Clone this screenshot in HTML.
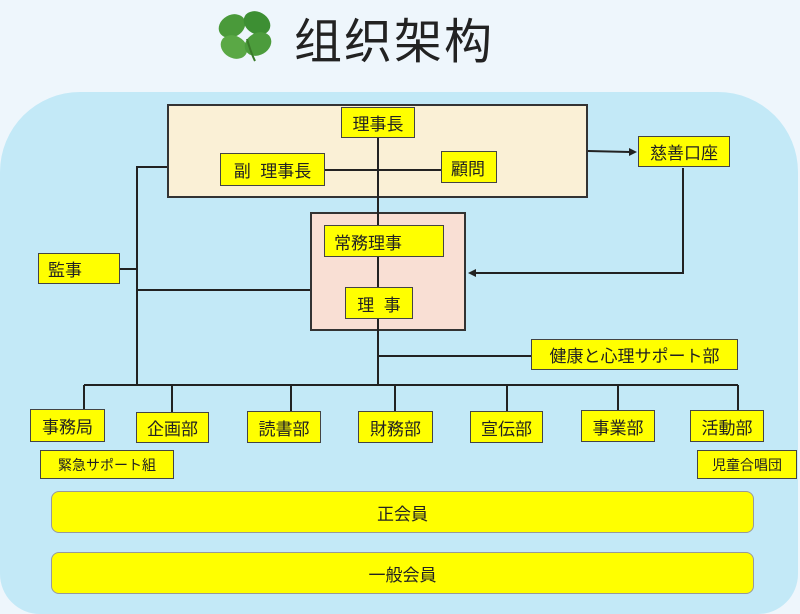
<!DOCTYPE html>
<html><head><meta charset="utf-8"><style>
html,body{margin:0;width:800px;height:614px;overflow:hidden;}
body{background:#eef6fc;position:relative;font-family:"Liberation Sans","Noto Sans CJK JP",sans-serif;}
.bg{position:absolute;left:0;top:92px;width:798px;height:522px;background:#c3e9f7;border-radius:80px 80px 40px 40px;}
.b{position:absolute;background:#ffff00;border:1.5px solid #444;box-sizing:border-box;font-size:17px;color:#222;display:flex;align-items:center;padding-left:9px;white-space:nowrap;}
.c{justify-content:center;padding-left:0;}
.s{font-size:14px;}
.big{border-radius:8px;border:1.5px solid #999;}
svg{position:absolute;left:0;top:0;}
</style></head><body>
<div class="bg"></div>
<div style="position:absolute;left:167px;top:104px;width:421px;height:94px;background:#faf0d6;border:2px solid #333;box-sizing:border-box"></div>
<div style="position:absolute;left:310px;top:212px;width:156px;height:119px;background:#f9dfd4;border:2px solid #333;box-sizing:border-box"></div>
<svg width="800" height="614">
<g stroke="#222" stroke-width="2" fill="none">
<polyline points="167,167 137,167 137,385"/>
<line x1="120" y1="269" x2="137" y2="269"/>
<line x1="137" y1="290" x2="310" y2="290"/>
<line x1="378" y1="138" x2="378" y2="385"/>
<line x1="325" y1="170" x2="441" y2="170"/>
<line x1="378" y1="356" x2="531" y2="356"/>
<line x1="84" y1="385" x2="738" y2="385"/>
<line x1="84" y1="385" x2="84" y2="409"/>
<line x1="172" y1="385" x2="172" y2="412"/>
<line x1="291" y1="385" x2="291" y2="411"/>
<line x1="395" y1="385" x2="395" y2="411"/>
<line x1="507" y1="385" x2="507" y2="411"/>
<line x1="618" y1="385" x2="618" y2="410"/>
<line x1="738" y1="385" x2="738" y2="410"/>
<line x1="588" y1="151" x2="630" y2="152"/>
<polyline points="683,168 683,273 474,273"/>
</g>
<polygon points="637,152 629,148 629,156" fill="#222"/>
<polygon points="468,273 476,269 476,277" fill="#222"/>
<g transform="translate(245,35)">
<ellipse cx="-13" cy="-9" rx="14" ry="11" fill="#4a9a3a" transform="rotate(-30 -13 -9)"/>
<ellipse cx="12" cy="-12" rx="14" ry="11" fill="#3d8f33" transform="rotate(30 12 -12)"/>
<ellipse cx="-11" cy="12" rx="14" ry="11" fill="#5aa845" transform="rotate(30 -11 12)"/>
<ellipse cx="13" cy="9" rx="14" ry="11" fill="#4c9c3c" transform="rotate(-30 13 9)"/>
<path d="M2 4 Q6 18 10 26" stroke="#3a7a2a" stroke-width="2" fill="none"/>
</g>
</svg>
<div style="position:absolute;left:294px;top:2px;font-size:48px;letter-spacing:2px;color:#222;font-family:'Noto Sans CJK SC',sans-serif">组织架构</div>
<div class="b c" style="left:341px;top:107px;width:74px;height:31px">理事長</div>
<div class="b c" style="left:220px;top:153px;width:105px;height:33px">副&nbsp;&nbsp;理事長</div>
<div class="b" style="left:441px;top:151px;width:56px;height:32px">顧問</div>
<div class="b" style="left:324px;top:225px;width:120px;height:32px">常務理事</div>
<div class="b c" style="left:345px;top:287px;width:68px;height:32px">理&nbsp;&nbsp;事</div>
<div class="b" style="left:38px;top:253px;width:82px;height:31px">監事</div>
<div class="b c" style="left:638px;top:136px;width:92px;height:31px">慈善口座</div>
<div class="b c" style="left:531px;top:339px;width:207px;height:31px">健康と心理サポート部</div>
<div class="b c" style="left:30px;top:409px;width:75px;height:33px">事務局</div>
<div class="b c" style="left:136px;top:412px;width:73px;height:31px">企画部</div>
<div class="b c" style="left:247px;top:411px;width:74px;height:32px">読書部</div>
<div class="b c" style="left:358px;top:411px;width:75px;height:32px">財務部</div>
<div class="b c" style="left:470px;top:411px;width:73px;height:32px">宣伝部</div>
<div class="b c" style="left:581px;top:410px;width:74px;height:32px">事業部</div>
<div class="b c" style="left:690px;top:410px;width:74px;height:32px">活動部</div>
<div class="b c s" style="left:40px;top:450px;width:134px;height:29px">緊急サポート組</div>
<div class="b c s" style="left:697px;top:450px;width:100px;height:29px">児童合唱団</div>
<div class="b c big" style="left:51px;top:491px;width:703px;height:42px">正会員</div>
<div class="b c big" style="left:51px;top:552px;width:703px;height:42px">一般会員</div>
</body></html>
